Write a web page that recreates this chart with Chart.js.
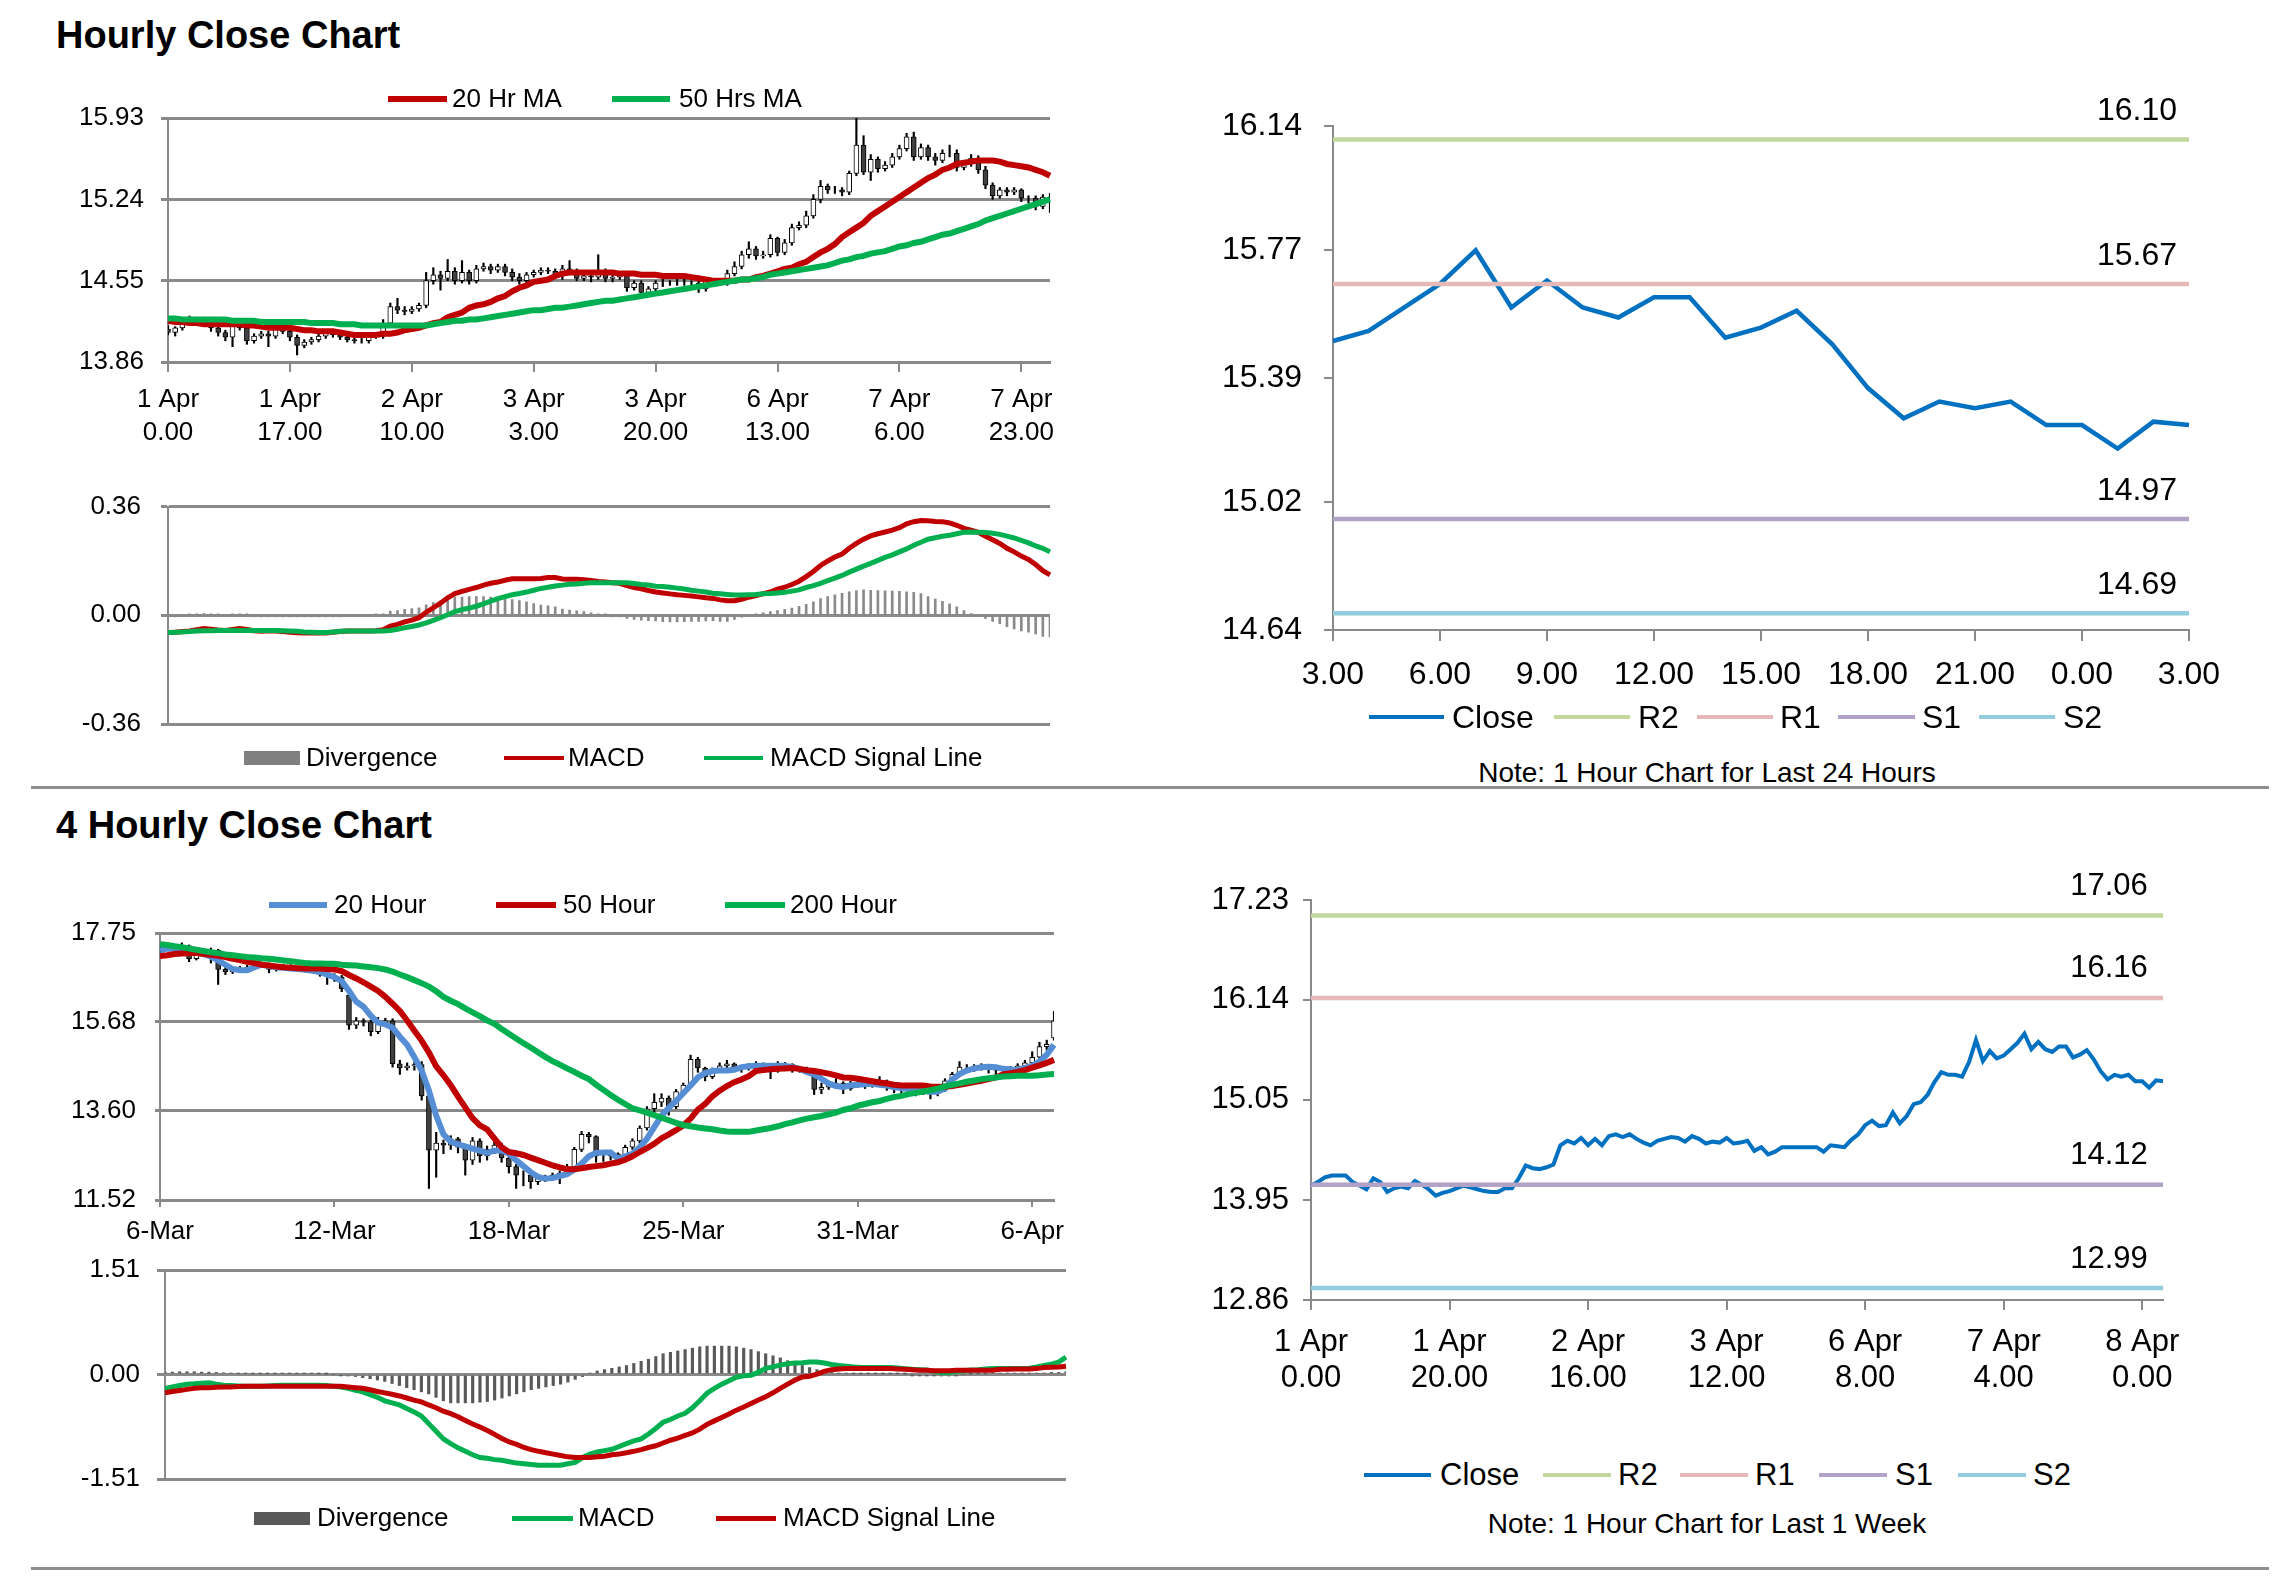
<!DOCTYPE html>
<html>
<head>
<meta charset="utf-8">
<title>Hourly Close Chart</title>
<script src="https://cdn.jsdelivr.net/npm/chart.js@4.4.1/dist/chart.umd.min.js"></script>
<style>
  body { margin: 0; width: 2291px; height: 1577px; background: #fff; position: relative; overflow: hidden;
         font-family: "Liberation Sans", Arial, sans-serif; color: #000; }
  canvas { position: absolute; }
  .title { position: absolute; left: 56px; font-weight: bold; font-size: 38px; line-height: 44px; white-space: nowrap; }
  .note { position: absolute; font-size: 28px; line-height: 34px; white-space: nowrap; transform: translateX(-50%); }
  .sep { position: absolute; left: 31px; width: 2238px; height: 3px; background: #8f8f8f; }
</style>
</head>
<body>
<div class="title" style="top:13px">Hourly Close Chart</div>
<div class="title" style="top:803px">4 Hourly Close Chart</div>
<div class="note" style="left:1707px;top:756px">Note: 1 Hour Chart for Last 24 Hours</div>
<div class="note" style="left:1707px;top:1507px">Note: 1 Hour Chart for Last 1 Week</div>
<div class="sep" style="top:786px"></div>
<div class="sep" style="top:1567px"></div>

<canvas id="hourPrice"></canvas>
<canvas id="hourMacd"></canvas>
<canvas id="dayLine"></canvas>
<canvas id="fourPrice"></canvas>
<canvas id="fourMacd"></canvas>
<canvas id="weekLine"></canvas>

<script>
// ---- hourly data, 1 Apr 0.00 .. 8 Apr 3.00 ----
const hourClose = [
  14.11,14.15,14.20,14.22,14.22,14.22,14.15,14.11,14.07,14.19,
  14.15,14.04,14.08,14.10,14.08,14.16,14.12,14.07,14.00,14.03,
  14.05,14.08,14.11,14.09,14.07,14.05,14.04,14.04,14.08,14.08,
  14.19,14.33,14.30,14.29,14.31,14.34,14.55,14.60,14.57,14.63,
  14.55,14.62,14.55,14.65,14.67,14.64,14.67,14.62,14.58,14.55,
  14.60,14.62,14.64,14.63,14.59,14.65,14.62,14.57,14.59,14.58,
  14.63,14.57,14.58,14.60,14.49,14.53,14.45,14.48,14.53,14.53,
  14.53,14.53,14.53,14.53,14.48,14.55,14.54,14.53,14.61,14.67,
  14.77,14.82,14.76,14.77,14.91,14.79,14.87,15.00,15.02,15.10,
  15.24,15.35,15.32,15.32,15.30,15.46,15.70,15.47,15.58,15.50,
  15.53,15.60,15.67,15.77,15.60,15.68,15.60,15.57,15.63,15.63,
  15.51,15.54,15.59,15.49,15.36,15.27,15.32,15.30,15.32,15.25,
  15.25,15.18,15.26,15.25];
const hourOpen = [
  14.14,14.11,14.15,14.20,14.22,14.22,14.22,14.15,14.11,14.07,
  14.19,14.15,14.04,14.08,14.10,14.08,14.16,14.12,14.07,14.00,
  14.03,14.05,14.08,14.11,14.09,14.07,14.05,14.04,14.04,14.08,
  14.08,14.19,14.33,14.30,14.29,14.31,14.34,14.55,14.60,14.57,
  14.63,14.55,14.62,14.55,14.65,14.67,14.64,14.67,14.62,14.58,
  14.55,14.60,14.62,14.64,14.63,14.59,14.65,14.62,14.57,14.59,
  14.58,14.63,14.57,14.58,14.60,14.49,14.53,14.45,14.48,14.53,
  14.53,14.53,14.53,14.53,14.53,14.48,14.55,14.54,14.53,14.61,
  14.67,14.77,14.82,14.76,14.77,14.91,14.79,14.87,15.00,15.02,
  15.10,15.24,15.35,15.32,15.32,15.30,15.46,15.70,15.47,15.58,
  15.50,15.53,15.60,15.67,15.77,15.60,15.68,15.60,15.57,15.63,
  15.63,15.51,15.54,15.59,15.49,15.36,15.27,15.32,15.30,15.32,
  15.25,15.25,15.18,15.26];
const hourHigh = [
  14.17,14.16,14.22,14.25,14.24,14.24,14.24,14.17,14.13,14.21,
  14.21,14.17,14.10,14.12,14.12,14.18,14.18,14.14,14.09,14.05,
  14.07,14.10,14.13,14.13,14.11,14.09,14.07,14.06,14.10,14.10,
  14.22,14.36,14.40,14.33,14.33,14.36,14.62,14.66,14.63,14.73,
  14.66,14.72,14.64,14.68,14.70,14.69,14.69,14.69,14.65,14.61,
  14.62,14.64,14.66,14.66,14.65,14.68,14.72,14.65,14.61,14.62,
  14.77,14.65,14.60,14.62,14.61,14.55,14.55,14.50,14.55,14.56,
  14.55,14.56,14.57,14.55,14.55,14.57,14.57,14.56,14.64,14.71,
  14.80,14.88,14.84,14.80,14.94,14.92,14.90,15.03,15.05,15.14,
  15.28,15.40,15.37,15.35,15.34,15.48,15.93,15.78,15.62,15.60,
  15.56,15.63,15.70,15.80,15.81,15.71,15.70,15.63,15.66,15.70,
  15.66,15.56,15.62,15.61,15.52,15.38,15.34,15.34,15.34,15.33,
  15.27,15.27,15.28,15.29];
const hourLow = [
  14.09,14.08,14.13,14.18,14.20,14.19,14.12,14.08,14.04,13.99,
  14.13,14.01,14.02,14.06,13.99,14.06,14.10,14.04,13.92,13.98,
  14.01,14.03,14.06,14.07,14.05,14.03,14.02,14.02,14.02,14.06,
  14.06,14.17,14.27,14.26,14.27,14.29,14.32,14.52,14.47,14.55,
  14.52,14.53,14.52,14.53,14.63,14.61,14.62,14.59,14.55,14.52,
  14.53,14.58,14.60,14.61,14.57,14.56,14.60,14.55,14.55,14.54,
  14.56,14.54,14.54,14.56,14.46,14.47,14.42,14.43,14.46,14.50,
  14.51,14.51,14.51,14.51,14.45,14.46,14.51,14.51,14.51,14.59,
  14.65,14.74,14.73,14.74,14.75,14.76,14.77,14.85,14.98,15.00,
  15.08,15.21,15.29,15.29,15.27,15.28,15.44,15.45,15.40,15.47,
  15.48,15.51,15.58,15.65,15.57,15.58,15.57,15.53,15.55,15.60,
  15.48,15.49,15.52,15.46,15.33,15.24,15.25,15.27,15.28,15.22,
  15.21,15.15,15.16,15.13];
const hourMa20 = [
  14.21,14.20,14.20,14.19,14.19,14.18,14.18,14.18,14.18,14.18,
  14.18,14.17,14.17,14.16,14.15,14.15,14.15,14.15,14.14,14.13,
  14.13,14.12,14.12,14.12,14.11,14.10,14.09,14.09,14.09,14.09,
  14.10,14.10,14.11,14.13,14.14,14.15,14.17,14.19,14.20,14.24,
  14.26,14.28,14.32,14.34,14.35,14.37,14.40,14.42,14.46,14.49,
  14.51,14.54,14.55,14.56,14.59,14.61,14.62,14.62,14.62,14.62,
  14.62,14.62,14.62,14.61,14.61,14.61,14.60,14.60,14.60,14.59,
  14.59,14.59,14.59,14.58,14.57,14.56,14.55,14.55,14.55,14.55,
  14.56,14.56,14.58,14.59,14.61,14.63,14.65,14.66,14.69,14.71,
  14.75,14.79,14.82,14.86,14.92,14.96,15.00,15.04,15.10,15.14,
  15.18,15.22,15.26,15.30,15.34,15.38,15.42,15.45,15.49,15.51,
  15.54,15.55,15.56,15.57,15.57,15.57,15.56,15.54,15.53,15.52,
  15.51,15.49,15.47,15.44];
const hourMa50 = [
  14.23,14.23,14.22,14.22,14.22,14.22,14.22,14.22,14.22,14.21,
  14.21,14.21,14.21,14.20,14.20,14.20,14.20,14.20,14.20,14.20,
  14.19,14.19,14.19,14.19,14.18,14.18,14.18,14.17,14.17,14.17,
  14.17,14.17,14.17,14.17,14.17,14.17,14.17,14.18,14.19,14.20,
  14.21,14.21,14.22,14.22,14.23,14.24,14.25,14.26,14.27,14.28,
  14.29,14.30,14.30,14.31,14.32,14.32,14.33,14.34,14.35,14.36,
  14.37,14.38,14.38,14.39,14.40,14.41,14.42,14.43,14.44,14.45,
  14.46,14.47,14.48,14.49,14.50,14.51,14.52,14.53,14.54,14.55,
  14.56,14.56,14.57,14.58,14.60,14.61,14.62,14.63,14.64,14.65,
  14.66,14.67,14.68,14.70,14.72,14.73,14.75,14.76,14.78,14.79,
  14.80,14.82,14.84,14.85,14.87,14.88,14.90,14.92,14.94,14.95,
  14.97,14.99,15.01,15.03,15.06,15.08,15.10,15.12,15.14,15.16,
  15.18,15.20,15.22,15.24];
const hourMacd = [
  -0.057,-0.056,-0.054,-0.052,-0.048,-0.044,-0.046,-0.049,-0.050,-0.047,
  -0.044,-0.047,-0.051,-0.053,-0.051,-0.052,-0.054,-0.056,-0.058,-0.059,
  -0.059,-0.059,-0.059,-0.056,-0.054,-0.052,-0.052,-0.052,-0.052,-0.051,
  -0.048,-0.036,-0.030,-0.022,-0.016,-0.008,0.010,0.025,0.040,0.058,
  0.072,0.079,0.086,0.092,0.100,0.106,0.110,0.116,0.121,0.121,
  0.121,0.121,0.122,0.125,0.125,0.120,0.119,0.119,0.118,0.115,
  0.112,0.110,0.108,0.106,0.098,0.092,0.088,0.082,0.077,0.074,
  0.071,0.068,0.066,0.064,0.061,0.058,0.056,0.051,0.048,0.048,
  0.053,0.060,0.065,0.072,0.077,0.087,0.093,0.102,0.113,0.128,
  0.145,0.165,0.180,0.193,0.203,0.222,0.238,0.252,0.263,0.270,
  0.276,0.282,0.290,0.303,0.310,0.314,0.313,0.311,0.310,0.306,
  0.298,0.288,0.282,0.275,0.262,0.250,0.238,0.222,0.210,0.196,
  0.185,0.168,0.148,0.134];
const hourSignal = [
  -0.057,-0.056,-0.055,-0.054,-0.052,-0.051,-0.051,-0.050,-0.050,-0.050,
  -0.050,-0.050,-0.050,-0.050,-0.050,-0.050,-0.051,-0.052,-0.053,-0.055,
  -0.056,-0.057,-0.057,-0.055,-0.053,-0.052,-0.052,-0.052,-0.052,-0.052,
  -0.052,-0.050,-0.046,-0.041,-0.037,-0.032,-0.025,-0.017,-0.008,0.002,
  0.012,0.019,0.024,0.030,0.038,0.047,0.055,0.062,0.068,0.072,
  0.077,0.083,0.089,0.093,0.097,0.100,0.103,0.104,0.106,0.108,
  0.108,0.108,0.108,0.108,0.108,0.105,0.102,0.100,0.096,0.095,
  0.093,0.090,0.087,0.083,0.080,0.077,0.073,0.071,0.069,0.067,
  0.067,0.068,0.069,0.071,0.072,0.074,0.076,0.080,0.084,0.092,
  0.098,0.106,0.115,0.123,0.132,0.143,0.153,0.163,0.172,0.182,
  0.192,0.200,0.210,0.220,0.232,0.242,0.252,0.257,0.262,0.265,
  0.270,0.275,0.276,0.275,0.274,0.272,0.268,0.262,0.256,0.248,
  0.240,0.230,0.222,0.210];
const hourDiv = [
  -0.004,-0.003,0.000,0.002,0.004,0.006,0.004,0.002,0.000,0.003,
  0.005,0.003,-0.001,-0.003,-0.002,-0.002,-0.003,-0.004,-0.005,-0.004,
  -0.003,-0.002,-0.002,-0.001,-0.001,0.000,0.000,0.000,0.000,0.001,
  0.004,0.014,0.016,0.020,0.022,0.025,0.035,0.042,0.048,0.056,
  0.060,0.060,0.062,0.062,0.062,0.060,0.056,0.054,0.052,0.049,
  0.045,0.039,0.034,0.031,0.028,0.021,0.017,0.015,0.012,0.008,
  0.004,0.002,-0.002,-0.004,-0.010,-0.014,-0.016,-0.018,-0.019,-0.021,
  -0.022,-0.022,-0.021,-0.020,-0.020,-0.019,-0.018,-0.020,-0.020,-0.014,
  -0.006,0.000,0.004,0.008,0.012,0.016,0.020,0.024,0.030,0.036,
  0.045,0.055,0.062,0.068,0.073,0.078,0.082,0.084,0.083,0.082,
  0.081,0.080,0.079,0.078,0.076,0.072,0.062,0.054,0.046,0.038,
  0.028,0.016,0.006,0.000,-0.010,-0.020,-0.028,-0.038,-0.045,-0.052,
  -0.056,-0.062,-0.070,-0.072];
const hourTickIdx = [0, 17, 34, 51, 68, 85, 102, 119];
const hourTickText = [['1 Apr','0.00'],['1 Apr','17.00'],['2 Apr','10.00'],['3 Apr','3.00'],
                      ['3 Apr','20.00'],['6 Apr','13.00'],['7 Apr','6.00'],['7 Apr','23.00']];
const hourYTicks = [13.86, 14.55, 15.24, 15.93];
const hourMacdTicks = [-0.36, 0, 0.36];

// ---- last 24 hours ----
const dayHours = ['3.00','4.00','5.00','6.00','7.00','8.00','9.00','10.00','11.00','12.00','13.00','14.00',
                  '15.00','16.00','17.00','18.00','19.00','20.00','21.00','22.00','23.00','0.00','1.00','2.00','3.00'];
const dayTickIdx = [0, 3, 6, 9, 12, 15, 18, 21, 24];
const dayYTicks = [14.64, 15.02, 15.39, 15.77, 16.14];
const dayLevels = [16.10, 15.67, 14.97, 14.69];   // R2, R1, S1, S2

// ---- last week ----
const weekTickIdx = [0, 20, 40, 60, 80, 100, 120];
const weekTickText = [['1 Apr','0.00'],['1 Apr','20.00'],['2 Apr','16.00'],['3 Apr','12.00'],
                      ['6 Apr','8.00'],['7 Apr','4.00'],['8 Apr','0.00']];
const weekYTicks = [12.86, 13.95, 15.05, 16.14, 17.23];
const weekLevels = [17.06, 16.16, 14.12, 12.99];  // R2, R1, S1, S2

// ---- 4 hourly data, 6 Mar .. 6 Apr ----
const fourClose = [
  17.40,17.42,17.38,17.45,17.15,17.25,17.30,17.35,16.90,16.85,
  16.88,16.92,16.95,17.00,17.02,16.90,16.95,16.98,16.96,16.92,
  16.90,16.92,16.80,16.75,16.72,16.45,15.60,15.70,15.68,15.45,
  15.62,15.70,14.70,14.60,14.65,14.68,13.95,12.68,12.85,12.80,
  12.95,12.75,12.45,12.90,12.55,12.70,12.80,12.50,12.30,12.10,
  12.10,11.95,12.05,12.05,12.10,12.15,12.30,12.70,13.05,13.00,
  12.55,12.55,12.60,12.45,12.75,12.90,13.20,13.65,13.80,13.90,
  13.70,14.05,14.20,14.80,14.60,14.40,14.55,14.65,14.70,14.62,
  14.60,14.66,14.70,14.65,14.55,14.70,14.68,14.60,14.58,14.55,
  14.10,14.15,14.20,14.25,14.12,14.25,14.25,14.20,14.25,14.30,
  14.15,14.12,14.10,14.08,14.05,14.05,14.00,14.08,14.30,14.45,
  14.62,14.62,14.62,14.65,14.60,14.55,14.58,14.60,14.65,14.72,
  14.85,15.10,15.15,15.70];
const fourOpen = [
  17.35,17.40,17.42,17.38,17.45,17.15,17.25,17.30,17.35,16.90,
  16.85,16.88,16.92,16.95,17.00,17.02,16.90,16.95,16.98,16.96,
  16.92,16.90,16.92,16.80,16.75,16.72,16.30,15.60,15.70,15.68,
  15.45,15.62,15.70,14.70,14.60,14.65,14.68,13.95,12.68,12.85,
  12.80,12.95,12.75,12.45,12.90,12.55,12.70,12.80,12.50,12.30,
  12.10,12.10,11.95,12.05,12.05,12.10,12.15,12.30,12.70,13.05,
  13.00,12.55,12.55,12.60,12.45,12.75,12.90,13.20,13.65,13.80,
  13.90,13.70,14.05,14.20,14.80,14.60,14.40,14.55,14.65,14.70,
  14.62,14.60,14.66,14.70,14.65,14.55,14.70,14.68,14.60,14.58,
  14.55,14.10,14.15,14.20,14.25,14.12,14.25,14.25,14.20,14.25,
  14.30,14.15,14.12,14.10,14.08,14.05,14.05,14.00,14.08,14.30,
  14.45,14.62,14.62,14.62,14.65,14.60,14.55,14.58,14.60,14.65,
  14.72,14.85,15.10,15.30];
const fourHigh = [
  17.48,17.46,17.45,17.52,17.47,17.30,17.34,17.40,17.37,16.95,
  16.93,16.97,17.00,17.05,17.06,17.05,16.99,17.02,17.01,16.98,
  16.95,16.96,16.95,16.84,16.80,16.76,16.35,15.78,15.75,15.72,
  15.78,15.76,15.75,14.78,14.72,14.74,14.75,13.98,13.10,12.92,
  13.02,12.98,12.80,12.98,12.95,12.78,12.88,12.85,12.55,12.35,
  12.20,12.15,12.12,12.10,12.15,12.20,12.35,12.75,13.12,13.10,
  13.02,12.62,12.65,12.62,12.80,12.95,13.25,13.70,14.00,14.00,
  13.95,14.10,14.25,14.90,14.85,14.62,14.60,14.72,14.78,14.72,
  14.65,14.70,14.75,14.72,14.68,14.75,14.73,14.70,14.63,14.62,
  14.57,14.25,14.24,14.35,14.28,14.29,14.30,14.28,14.29,14.40,
  14.32,14.18,14.16,14.14,14.12,14.10,14.08,14.12,14.35,14.50,
  14.75,14.68,14.68,14.70,14.68,14.62,14.62,14.64,14.70,14.78,
  14.98,15.20,15.25,15.92];
const fourLow = [
  17.30,17.36,17.33,17.35,17.08,17.12,17.22,17.05,16.55,16.78,
  16.80,16.84,16.88,16.92,16.95,16.82,16.86,16.90,16.90,16.86,
  16.84,16.85,16.74,16.55,16.62,16.38,15.50,15.52,15.58,15.35,
  15.40,15.60,14.62,14.45,14.55,14.55,13.85,11.79,12.05,12.60,
  12.70,12.62,12.10,12.35,12.40,12.45,12.60,12.40,12.15,11.79,
  11.85,11.79,11.88,11.95,11.98,11.90,12.10,12.25,12.65,12.85,
  12.40,12.42,12.45,12.35,12.40,12.70,12.85,13.15,13.55,13.70,
  13.50,13.65,14.00,14.15,14.50,14.30,14.35,14.50,14.58,14.52,
  14.50,14.55,14.60,14.55,14.35,14.50,14.58,14.50,14.50,14.45,
  13.98,14.00,14.10,14.15,14.00,14.08,14.15,14.12,14.15,14.18,
  14.08,14.02,14.00,13.98,13.95,13.98,13.88,13.95,14.05,14.25,
  14.40,14.52,14.52,14.55,14.48,14.45,14.48,14.50,14.55,14.62,
  14.68,14.82,15.02,15.25];
const fourMa20 = [
  17.34,17.39,17.38,17.36,17.34,17.30,17.26,17.20,17.11,17.01,
  16.91,16.88,16.88,16.95,17.01,16.98,16.95,16.94,16.92,16.91,
  16.89,16.87,16.84,16.78,16.72,16.63,16.40,16.15,16.03,15.82,
  15.66,15.62,15.54,15.33,15.14,14.85,14.54,14.07,13.49,13.05,
  12.88,12.82,12.77,12.72,12.67,12.62,12.67,12.68,12.60,12.45,
  12.31,12.17,12.06,12.02,12.03,12.08,12.12,12.23,12.37,12.54,
  12.62,12.63,12.63,12.49,12.54,12.60,12.75,12.95,13.22,13.49,
  13.67,13.83,14.01,14.19,14.38,14.48,14.53,14.54,14.54,14.56,
  14.62,14.64,14.65,14.65,14.65,14.65,14.65,14.62,14.58,14.51,
  14.45,14.35,14.24,14.18,14.16,14.19,14.21,14.22,14.23,14.21,
  14.19,14.15,14.13,14.11,14.08,14.07,14.04,14.05,14.12,14.33,
  14.46,14.54,14.59,14.62,14.63,14.62,14.58,14.57,14.55,14.60,
  14.65,14.75,14.91,15.14];
const fourMa50 = [
  17.21,17.23,17.26,17.27,17.28,17.29,17.26,17.24,17.22,17.19,
  17.15,17.12,17.08,17.05,17.01,16.99,16.97,16.95,16.94,16.93,
  16.92,16.92,16.92,16.91,16.90,16.86,16.77,16.69,16.60,16.50,
  16.40,16.26,16.10,15.93,15.71,15.47,15.24,14.96,14.64,14.43,
  14.20,13.93,13.68,13.43,13.26,13.17,12.96,12.75,12.64,12.61,
  12.57,12.51,12.45,12.39,12.33,12.28,12.24,12.24,12.26,12.29,
  12.31,12.33,12.37,12.40,12.46,12.54,12.64,12.73,12.83,12.96,
  13.05,13.15,13.26,13.42,13.63,13.76,13.94,14.07,14.18,14.27,
  14.33,14.41,14.53,14.55,14.57,14.58,14.59,14.60,14.58,14.55,
  14.53,14.50,14.47,14.43,14.38,14.37,14.35,14.32,14.29,14.26,
  14.24,14.21,14.19,14.19,14.19,14.19,14.17,14.16,14.16,14.18,
  14.21,14.24,14.27,14.30,14.34,14.38,14.45,14.48,14.51,14.55,
  14.61,14.66,14.72,14.79];
const fourMa200 = [
  17.49,17.47,17.44,17.42,17.39,17.36,17.33,17.30,17.28,17.25,
  17.23,17.21,17.19,17.18,17.16,17.15,17.13,17.11,17.09,17.07,
  17.05,17.04,17.04,17.03,17.03,17.01,17.00,16.99,16.97,16.95,
  16.93,16.90,16.85,16.78,16.72,16.65,16.58,16.50,16.39,16.26,
  16.17,16.09,15.99,15.90,15.81,15.71,15.63,15.51,15.40,15.29,
  15.18,15.08,14.97,14.86,14.76,14.68,14.59,14.51,14.42,14.34,
  14.21,14.09,13.97,13.86,13.76,13.66,13.61,13.56,13.50,13.44,
  13.38,13.32,13.27,13.24,13.21,13.19,13.17,13.14,13.12,13.11,
  13.11,13.11,13.14,13.17,13.20,13.24,13.29,13.33,13.38,13.42,
  13.45,13.48,13.52,13.56,13.62,13.66,13.72,13.76,13.80,13.83,
  13.88,13.92,13.95,13.99,14.02,14.05,14.08,14.12,14.17,14.21,
  14.24,14.28,14.31,14.34,14.36,14.38,14.40,14.41,14.42,14.42,
  14.42,14.43,14.45,14.46];
const fourMacd = [
  -0.20,-0.18,-0.16,-0.14,-0.135,-0.125,-0.12,-0.14,-0.155,-0.16,
  -0.165,-0.17,-0.17,-0.17,-0.165,-0.16,-0.155,-0.155,-0.155,-0.155,
  -0.155,-0.155,-0.16,-0.17,-0.18,-0.20,-0.23,-0.25,-0.29,-0.33,
  -0.38,-0.41,-0.44,-0.49,-0.54,-0.60,-0.71,-0.82,-0.93,-1.00,
  -1.06,-1.11,-1.16,-1.20,-1.21,-1.23,-1.24,-1.26,-1.28,-1.29,
  -1.30,-1.31,-1.31,-1.31,-1.31,-1.29,-1.27,-1.20,-1.15,-1.12,
  -1.10,-1.08,-1.04,-1.00,-0.96,-0.93,-0.86,-0.78,-0.69,-0.65,
  -0.60,-0.56,-0.48,-0.38,-0.27,-0.20,-0.14,-0.09,-0.04,-0.02,
  -0.01,0.03,0.09,0.11,0.135,0.155,0.165,0.17,0.18,0.18,
  0.165,0.145,0.13,0.12,0.11,0.10,0.10,0.10,0.10,0.10,
  0.095,0.085,0.075,0.07,0.065,0.045,0.03,0.03,0.045,0.055,
  0.065,0.07,0.08,0.085,0.085,0.085,0.085,0.085,0.09,0.11,
  0.13,0.15,0.18,0.25];
const fourSignal = [
  -0.265,-0.245,-0.23,-0.215,-0.20,-0.19,-0.19,-0.185,-0.18,-0.18,
  -0.175,-0.17,-0.17,-0.17,-0.17,-0.17,-0.17,-0.17,-0.17,-0.17,
  -0.17,-0.17,-0.17,-0.17,-0.17,-0.18,-0.19,-0.20,-0.22,-0.245,
  -0.265,-0.285,-0.31,-0.34,-0.37,-0.395,-0.44,-0.48,-0.53,-0.565,
  -0.61,-0.665,-0.715,-0.76,-0.81,-0.865,-0.925,-0.975,-1.01,-1.055,
  -1.085,-1.11,-1.13,-1.15,-1.17,-1.19,-1.20,-1.20,-1.20,-1.19,
  -1.18,-1.16,-1.15,-1.13,-1.11,-1.085,-1.055,-1.03,-0.99,-0.95,
  -0.92,-0.88,-0.845,-0.79,-0.72,-0.67,-0.62,-0.57,-0.515,-0.47,
  -0.42,-0.37,-0.32,-0.265,-0.20,-0.14,-0.08,-0.035,-0.025,0.005,
  0.045,0.07,0.08,0.085,0.085,0.085,0.085,0.085,0.085,0.085,
  0.08,0.075,0.07,0.06,0.06,0.055,0.055,0.055,0.06,0.06,
  0.06,0.06,0.06,0.06,0.075,0.075,0.08,0.08,0.08,0.085,
  0.10,0.105,0.11,0.12];
const fourDiv = [
  0.03,0.035,0.04,0.04,0.04,0.035,0.035,0.03,0.025,0.02,
  0.015,0.015,0.01,0.01,0.01,0.01,0.015,0.015,0.015,0.015,
  0.015,0.01,0.005,0.0,-0.01,-0.02,-0.03,-0.045,-0.06,-0.08,
  -0.10,-0.13,-0.16,-0.19,-0.22,-0.25,-0.28,-0.33,-0.38,-0.41,
  -0.41,-0.41,-0.41,-0.40,-0.39,-0.37,-0.34,-0.31,-0.28,-0.25,
  -0.22,-0.20,-0.18,-0.16,-0.14,-0.11,-0.07,-0.03,0.02,0.05,
  0.07,0.09,0.11,0.13,0.16,0.19,0.22,0.26,0.30,0.32,
  0.34,0.36,0.38,0.40,0.41,0.41,0.41,0.41,0.40,0.38,
  0.36,0.33,0.30,0.27,0.24,0.20,0.17,0.13,0.10,0.07,
  0.05,0.03,0.02,0.02,0.01,0.01,0.01,0.01,0.01,0.01,
  0.01,0.005,-0.005,-0.01,-0.01,-0.01,-0.02,-0.02,-0.01,0.0,
  0.005,0.01,0.01,0.02,0.02,0.02,0.02,0.02,0.02,0.02,
  0.02,0.03,0.03,0.04];
const fourTickIdx = [0, 24, 48, 72, 96, 120];
const fourTickText = ['6-Mar', '12-Mar', '18-Mar', '25-Mar', '31-Mar', '6-Apr'];
const fourYTicks = [11.52, 13.60, 15.68, 17.75];
const fourMacdTicks = [-1.51, 0, 1.51];

// ---- styling ----
const FONT = '"Liberation Sans", Arial, sans-serif';
const GRID = '#898989';
const RED = '#c00000', GREEN = '#00b050', LBLUE = '#558ed5', BLUE = '#0070c0';
const R2C = '#c3d69b', R1C = '#e6b9b8', S1C = '#b3a2c7', S2C = '#93cddd';

Chart.defaults.font.family = FONT;
Chart.defaults.color = '#000';

function place(id, left, top, w, h) {
  const c = document.getElementById(id);
  c.width = w; c.height = h;
  c.style.left = left + 'px'; c.style.top = top + 'px';
  return c.getContext('2d');
}

function yScale(ticks, o) {
  return {
    min: ticks[0], max: ticks[ticks.length - 1],
    afterBuildTicks: s => { s.ticks = ticks.map(v => ({ value: v })); },
    afterFit: s => { s.width = o.w; },
    grid: { color: GRID, lineWidth: o.gridW, drawOnChartArea: o.inside, drawTicks: true, tickLength: o.tl },
    border: { display: true, color: GRID, width: o.axisW },
    ticks: { padding: o.pad, color: '#000', font: { family: FONT, size: o.fs }, callback: v => v.toFixed(2) }
  };
}

function xCat(o) {
  return {
    type: 'category', offset: false, display: o.display !== false,
    afterFit: s => { if (o.h != null) s.height = o.h; },
    grid: { drawOnChartArea: false, offset: false, color: GRID, lineWidth: 2, tickLength: o.tl || 0 },
    border: { display: true, color: GRID, width: o.axisW || 2 },
    ticks: { autoSkip: false, maxRotation: 0, minRotation: 0, padding: o.pad || 0, color: '#000',
             font: { family: FONT, size: o.fs || 26, lineHeight: (o.lh || 31) + 'px' },
             callback: (v, i) => { const k = (o.idx || []).indexOf(i); return k < 0 ? null : o.text[k]; } }
  };
}

function options(padding, x, y, extra) {
  return {
    responsive: false, animation: false,
    layout: { padding },
    scales: { x, y },
    plugins: Object.assign({ legend: { display: false }, tooltip: { enabled: false } }, extra || {})
  };
}

function line(label, data, color, w, order) {
  return { type: 'line', label, data, borderColor: color, backgroundColor: color, borderWidth: w,
           pointRadius: 0, tension: 0, order };
}

function candles(open, high, low, close, bodyW) {
  return [
    { type: 'bar', label: 'Body', data: open.map((o, i) => [o, close[i]]),
      backgroundColor: close.map((c, i) => c >= open[i] ? '#ffffff' : '#404040'),
      borderColor: '#000', borderWidth: 1, borderSkipped: false, barThickness: bodyW, grouped: false, order: 8 },
    { type: 'bar', label: 'Range', data: low.map((l, i) => [l, high[i]]),
      backgroundColor: '#000', barThickness: 1.5, grouped: false, order: 9 }
  ];
}

function level(label, v, n, color, order) {
  return { type: 'line', label, data: Array.from({ length: n }, (_, i) => (i === 0 || i === n - 1) ? v : null),
           spanGaps: true, borderColor: color, borderWidth: 4.5, pointRadius: 0, order };
}

const levelLabels = {
  id: 'levelLabels',
  afterDatasetsDraw(chart, args, o) {
    if (!o || !o.values) return;
    const { ctx, chartArea, scales } = chart;
    ctx.save();
    ctx.font = o.size + 'px ' + FONT;
    ctx.fillStyle = '#000';
    ctx.textAlign = 'center';
    ctx.textBaseline = 'middle';
    o.values.forEach(v => ctx.fillText(v.toFixed(2), chartArea.right - o.dx, scales.y.getPixelForValue(v) - o.dy));
    ctx.restore();
  }
};

// Hourly close chart with candles (plot 168..1050 x 118..362)
new Chart(place('hourPrice', 40, 84, 1032, 381), {
  type: 'bar',
  data: {
    labels: hourClose.map((_, i) => i),
    datasets: [
      line('50 Hrs MA', hourMa50, GREEN, 6, 0),
      line('20 Hr MA', hourMa20, RED, 6, 1),
      ...candles(hourOpen, hourHigh, hourLow, hourClose, 5)
    ]
  },
  options: options({ top: 34, right: 22, left: 0, bottom: 0 },
    xCat({ h: 103, tl: 10, pad: 11, fs: 26, lh: 33, idx: hourTickIdx, text: hourTickText, axisW: 3 }),
    yScale(hourYTicks, { w: 128, gridW: 3, inside: true, tl: 7, pad: 17, fs: 26, axisW: 2 }))
});

// Hourly MACD (plot 505..724)
new Chart(place('hourMacd', 40, 471, 1032, 299), {
  type: 'bar',
  data: {
    labels: hourMacd.map((_, i) => i),
    datasets: [
      line('MACD Signal Line', hourSignal, GREEN, 5, 1),
      line('MACD', hourMacd, RED, 5, 2),
      { type: 'bar', label: 'Divergence', data: hourDiv, backgroundColor: '#8a8a8a', barThickness: 2, order: 3 }
    ]
  },
  options: options({ top: 34, right: 22, left: 0, bottom: 46 },
    xCat({ display: false }),
    yScale(hourMacdTicks, { w: 128, gridW: 3, inside: true, tl: 7, pad: 20, fs: 26, axisW: 2 }))
});

// Last 24 hours with levels
const dayClose = hourClose.slice(hourClose.length - dayHours.length);
new Chart(place('dayLine', 1190, 80, 1090, 640), {
  type: 'line',
  data: {
    labels: dayHours,
    datasets: [
      line('Close', dayClose, BLUE, 4.5, 6),
      level('R2', dayLevels[0], dayHours.length, R2C, 4),
      level('R1', dayLevels[1], dayHours.length, R1C, 3),
      level('S1', dayLevels[2], dayHours.length, S1C, 2),
      level('S2', dayLevels[3], dayHours.length, S2C, 1)
    ]
  },
  plugins: [levelLabels],
  options: options({ top: 46, right: 91, left: 0, bottom: 0 },
    xCat({ h: 90, tl: 11, pad: 15, fs: 32, lh: 38, idx: dayTickIdx, text: dayTickIdx.map(i => dayHours[i]), axisW: 2 }),
    yScale(dayYTicks, { w: 143, gridW: 2, inside: false, tl: 9, pad: 22, fs: 32, axisW: 2 }),
    { levelLabels: { values: dayLevels, dx: 52, dy: 28, size: 32 } })
});

// 4 hourly close chart with candles (plot 160..1054 x 933..1200)
new Chart(place('fourPrice', 30, 897, 1052, 363), {
  type: 'bar',
  data: {
    labels: fourClose.map((_, i) => i),
    datasets: [
      line('200 Hour', fourMa200, GREEN, 6, 0),
      line('50 Hour', fourMa50, RED, 6, 1),
      line('20 Hour', fourMa20, LBLUE, 6, 2),
      ...candles(fourOpen, fourHigh, fourLow, fourClose, 5)
    ]
  },
  options: options({ top: 36, right: 28, left: 0, bottom: 0 },
    xCat({ h: 60, tl: 7, pad: 9, fs: 26, lh: 31, idx: fourTickIdx, text: fourTickText, axisW: 3 }),
    yScale(fourYTicks, { w: 130, gridW: 3, inside: true, tl: 5, pad: 19, fs: 26, axisW: 2 }))
});

// 4 hourly MACD (plot 1270..1479)
new Chart(place('fourMacd', 30, 1236, 1052, 277), {
  type: 'bar',
  data: {
    labels: fourMacd.map((_, i) => i),
    datasets: [
      line('MACD Signal Line', fourSignal, RED, 5, 1),
      line('MACD', fourMacd, GREEN, 5, 2),
      { type: 'bar', label: 'Divergence', data: fourDiv, backgroundColor: '#595959', barThickness: 2.5, order: 3 }
    ]
  },
  options: options({ top: 34, right: 16, left: 0, bottom: 34 },
    xCat({ display: false }),
    yScale(fourMacdTicks, { w: 135, gridW: 3, inside: true, tl: 8, pad: 17, fs: 26, axisW: 2 }))
});

// Last week with levels (plot 1311..2163 x 900..1300)
new Chart(place('weekLine', 1180, 862, 1100, 568), {
  type: 'line',
  data: {
    labels: hourClose.map((_, i) => i),
    datasets: [
      line('Close', hourClose, BLUE, 4, 6),
      level('R2', weekLevels[0], hourClose.length, R2C, 4),
      level('R1', weekLevels[1], hourClose.length, R1C, 3),
      level('S1', weekLevels[2], hourClose.length, S1C, 2),
      level('S2', weekLevels[3], hourClose.length, S2C, 1)
    ]
  },
  plugins: [levelLabels],
  options: options({ top: 38, right: 117, left: 0, bottom: 0 },
    xCat({ h: 130, tl: 10, pad: 14, fs: 31, lh: 36, idx: weekTickIdx, text: weekTickText, axisW: 2 }),
    yScale(weekYTicks, { w: 131, gridW: 2, inside: false, tl: 8, pad: 14, fs: 31, axisW: 2 }),
    { levelLabels: { values: weekLevels, dx: 54, dy: 29, size: 31 } })
});

// legends: [lineLeft, lineRight, centerY, thickness, colour, textLeft, text, fontSize]
const legendItems = [
  [388, 447, 99, 6, RED, 452, '20 Hr MA', 26],
  [612, 670, 99, 6, GREEN, 679, '50 Hrs MA', 26],
  [244, 300, 758, 14, '#808080', 306, 'Divergence', 26],
  [504, 564, 758, 4, RED, 568, 'MACD', 26],
  [704, 763, 758, 4, GREEN, 770, 'MACD Signal Line', 26],
  [1369, 1444, 717, 4, BLUE, 1452, 'Close', 32],
  [1554, 1630, 717, 4, R2C, 1638, 'R2', 32],
  [1697, 1773, 717, 4, R1C, 1780, 'R1', 32],
  [1838, 1915, 717, 4, S1C, 1922, 'S1', 32],
  [1979, 2055, 717, 4, S2C, 2063, 'S2', 32],
  [269, 327, 905, 6, LBLUE, 334, '20 Hour', 26],
  [496, 556, 905, 6, RED, 563, '50 Hour', 26],
  [725, 785, 905, 6, GREEN, 790, '200 Hour', 26],
  [254, 310, 1518, 13, '#595959', 317, 'Divergence', 26],
  [512, 573, 1518, 5, GREEN, 578, 'MACD', 26],
  [716, 776, 1518, 5, RED, 783, 'MACD Signal Line', 26],
  [1364, 1431, 1475, 4, BLUE, 1440, 'Close', 31],
  [1543, 1611, 1475, 4, R2C, 1618, 'R2', 31],
  [1680, 1748, 1475, 4, R1C, 1755, 'R1', 31],
  [1819, 1887, 1475, 4, S1C, 1895, 'S1', 31],
  [1958, 2026, 1475, 4, S2C, 2033, 'S2', 31]
];
legendItems.forEach(([x1, x2, cy, th, col, tx, txt, size]) => {
  const sw = document.createElement('div');
  sw.style.cssText = `position:absolute;left:${x1}px;top:${cy - th / 2}px;width:${x2 - x1}px;height:${th}px;background:${col};`;
  document.body.appendChild(sw);
  const t = document.createElement('div');
  t.textContent = txt;
  t.style.cssText = `position:absolute;left:${tx}px;top:${cy - size * 0.6}px;font-size:${size}px;line-height:${size * 1.2}px;white-space:nowrap;`;
  document.body.appendChild(t);
});
</script>
</body>
</html>
